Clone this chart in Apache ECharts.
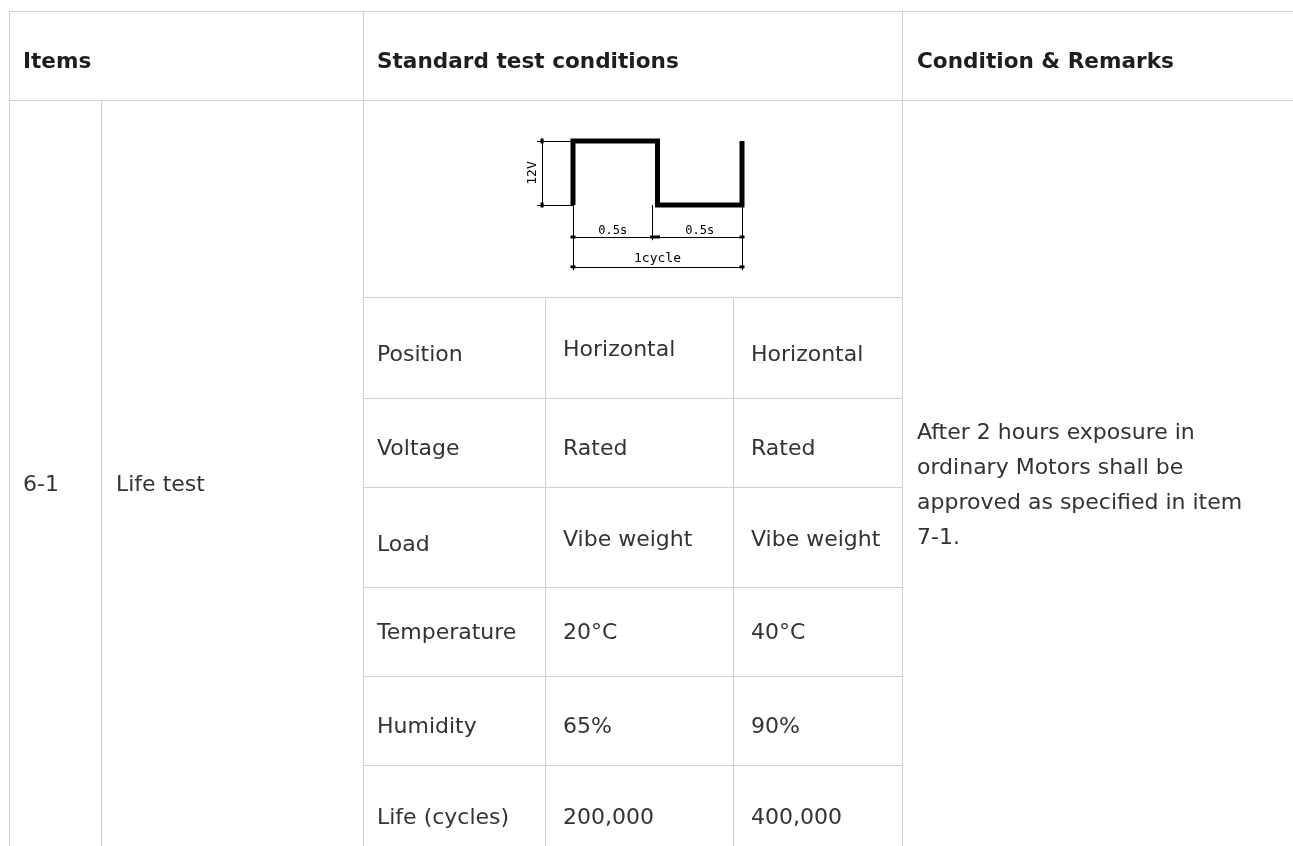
<!DOCTYPE html>
<html>
<head>
<meta charset="utf-8">
<title>Life test</title>
<script src="https://cdn.jsdelivr.net/npm/echarts@6/dist/echarts.min.js"></script>
<style>
html, body { margin: 0; padding: 0; background: #fff; }
#chart { width: 1293px; height: 846px; }
</style>
</head>
<body>
<div id="chart"></div>
<script>
// table content
var headers = ['Items', 'Standard test conditions', 'Condition & Remarks'];
var itemNo = '6-1';
var itemName = 'Life test';
var conditions = ['Position', 'Voltage', 'Load', 'Temperature', 'Humidity', 'Life (cycles)'];
var settingA = ['Horizontal', 'Rated', 'Vibe weight', '20°C', '65%', '200,000'];
var settingB = ['Horizontal', 'Rated', 'Vibe weight', '40°C', '90%', '400,000'];
var remarks = ['After 2 hours exposure in', 'ordinary Motors shall be', 'approved as specified in item', '7-1.'];

// drive waveform, time (s) and voltage (V)
var waveTime = [0, 0, 0.5, 0.5, 1, 1];
var waveVolt = [0, 12, 12, 0, 0, 12];
var voltLabel = '12V';
var halfLabel = '0.5s';
var cycleLabel = '1cycle';

// layout in px
var W = 1293, H = 846;
var colX = [9, 101, 363, 545, 733, 902];
var rowY = [11, 100, 297, 398, 487, 587, 676, 765];
var headY = 62;
var textRowY = [355, 449, 545, 633, 727, 818];
var colAShift = [-5, 0, -5, 0, 0, 0];
var colBShift = [0, 0, -5, 0, 0, 0];
var remarkY = [433, 468, 503, 538];
var itemY = 485;

var lineColor = '#d0d0d0';
var bodyFont = '22px "DejaVu Sans", Verdana, sans-serif';
var headFont = 'bold 21.6px "DejaVu Sans", Verdana, sans-serif';

// table rules
var segs = [];
segs.push([colX[0], rowY[0], W, rowY[0]]);
segs.push([colX[0], rowY[1], W, rowY[1]]);
for (var i = 2; i < rowY.length; i++) {
	segs.push([colX[2], rowY[i], colX[5], rowY[i]]);
}
segs.push([colX[0], rowY[0], colX[0], H]);
segs.push([colX[1], rowY[1], colX[1], H]);
segs.push([colX[2], rowY[0], colX[2], H]);
segs.push([colX[3], rowY[2], colX[3], H]);
segs.push([colX[4], rowY[2], colX[4], H]);
segs.push([colX[5], rowY[0], colX[5], H]);

// cell texts
var cells = [];
cells.push({ x: colX[0] + 14, y: headY, t: headers[0], f: headFont, c: '#1e1e1e' });
cells.push({ x: colX[2] + 14, y: headY, t: headers[1], f: headFont, c: '#1e1e1e' });
cells.push({ x: colX[5] + 15, y: headY, t: headers[2], f: headFont, c: '#1e1e1e' });
cells.push({ x: colX[0] + 14, y: itemY, t: itemNo, f: bodyFont, c: '#333' });
cells.push({ x: colX[1] + 15, y: itemY, t: itemName, f: bodyFont, c: '#333' });
for (var r = 0; r < conditions.length; r++) {
	cells.push({ x: colX[2] + 14, y: textRowY[r], t: conditions[r], f: bodyFont, c: '#333' });
	cells.push({ x: colX[3] + 18, y: textRowY[r] + colAShift[r], t: settingA[r], f: bodyFont, c: '#333' });
	cells.push({ x: colX[4] + 18, y: textRowY[r] + colBShift[r], t: settingB[r], f: bodyFont, c: '#333' });
}
for (var k = 0; k < remarks.length; k++) {
	cells.push({ x: colX[5] + 15, y: remarkY[k], t: remarks[k], f: bodyFont, c: '#333' });
}

// waveform placement: t=0 at x 573, 169 px per s; 0 V at y 205, 64 px per 12 V
var t0 = 573, pxS = 169, v0 = 205, pxV = 64 / 12;
var tMin = -0.3, tMax = 1.1, vMin = -14, vMax = 14;

var dimFont = { fontFamily: '"DejaVu Sans Mono", monospace', fontSize: 12, color: '#000' };

function dim(a, b, text, dist, size) {
	return [
		{ coord: a, symbol: 'rect', symbolSize: [3, 5],
			label: Object.assign({ show: true, formatter: text, position: 'insideMiddleTop', distance: dist }, dimFont, size ? { fontSize: size } : {}) },
		{ coord: b, symbol: 'rect', symbolSize: [3, 5] }
	];
}
function ext(a, b) {
	return [{ coord: a }, { coord: b }];
}

var chart = echarts.init(document.getElementById('chart'));
chart.setOption({
	animation: false,
	backgroundColor: '#fff',
	grid: [
		{ left: 0, top: 0, width: W, height: H },
		{ left: t0 + tMin * pxS, top: v0 - vMax * pxV, width: (tMax - tMin) * pxS, height: (vMax - vMin) * pxV }
	],
	xAxis: [
		{ type: 'value', min: 0, max: W, show: false, gridIndex: 0 },
		{ type: 'value', min: tMin, max: tMax, show: false, gridIndex: 1 }
	],
	yAxis: [
		{ type: 'value', min: 0, max: H, inverse: true, show: false, gridIndex: 0 },
		{ type: 'value', min: vMin, max: vMax, show: false, gridIndex: 1 }
	],
	series: [
		{
			type: 'custom',
			xAxisIndex: 0,
			yAxisIndex: 0,
			silent: true,
			clip: false,
			data: segs,
			renderItem: function (params, api) {
				var p1 = api.coord([api.value(0), api.value(1)]);
				var p2 = api.coord([api.value(2), api.value(3)]);
				return {
					type: 'line',
					shape: { x1: Math.round(p1[0]) + 0.5, y1: Math.round(p1[1]) + 0.5, x2: Math.round(p2[0]) + 0.5, y2: Math.round(p2[1]) + 0.5 },
					style: { stroke: lineColor, lineWidth: 1 }
				};
			}
		},
		{
			type: 'custom',
			xAxisIndex: 0,
			yAxisIndex: 0,
			silent: true,
			clip: false,
			data: cells.map(function (c) { return [c.x, c.y]; }),
			renderItem: function (params, api) {
				var c = cells[params.dataIndex];
				var p = api.coord([api.value(0), api.value(1)]);
				return {
					type: 'text',
					x: p[0],
					y: p[1],
					style: { text: c.t, font: c.f, fill: c.c, align: 'left', verticalAlign: 'middle' }
				};
			}
		},
		{
			type: 'line',
			xAxisIndex: 1,
			yAxisIndex: 1,
			silent: true,
			symbol: 'none',
			data: waveTime.map(function (t, i) { return [t, waveVolt[i]]; }),
			lineStyle: { color: '#000', width: 5, join: 'miter', cap: 'butt' },
			markLine: {
				silent: true,
				symbol: 'none',
				animation: false,
				label: { show: false },
				lineStyle: { color: '#000', width: 1, type: 'solid' },
				emphasis: { disabled: true },
				data: [
					// 12V
					ext([-0.213, 12], [0, 12]),
					ext([-0.213, 0], [0, 0]),
					dim([-0.183, 0], [-0.183, 12], voltLabel, 3, 13),
					// extension lines under the cycle
					ext([0, 0], [0, -12.2]),
					ext([0.47, 0], [0.47, -6.6]),
					ext([1, 0], [1, -12.2]),
					// 0.5s + 0.5s
					dim([0, -6], [0.47, -6], halfLabel, 0),
					dim([0.5, -6], [1, -6], halfLabel, 0),
					// 1cycle
					dim([0, -11.6], [1, -11.6], cycleLabel, 2, 13)
				]
			}
		}
	]
});
</script>
</body>
</html>
